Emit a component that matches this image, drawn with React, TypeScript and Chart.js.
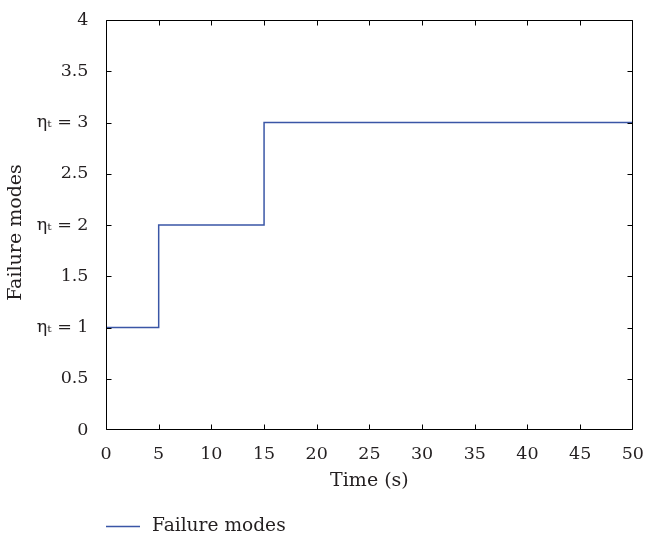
import React, { useEffect, useRef } from 'react';
import { Chart, registerables } from 'chart.js';

Chart.register(...registerables);

// ---- data ----
const times = [0, 5, 15, 50];
const failureModes = [1, 2, 3, 3];
const xTickValues = [0, 5, 10, 15, 20, 25, 30, 35, 40, 45, 50];
const yTickValues = [0, 0.5, 1, 1.5, 2, 2.5, 3, 3.5, 4];
const yTickLabels = ['0', '0.5', 'ηₜ = 1', '1.5', 'ηₜ = 2', '2.5', 'ηₜ = 3', '3.5', '4'];
const seriesLabel = 'Failure modes';
const xTitle = 'Time (s)';
const yTitle = 'Failure modes';

const FONT = 'DejaVu Serif';
const TEXT = '#231f20';
const LINE = '#3a56a6';

const clamp = (v: number, a: number, b: number) => Math.min(Math.max(v, a), b);

const framePlugin = {
  id: 'frameTicks',
  afterDatasetsDraw(chart: any) {
    const { ctx, chartArea } = chart;
    const xs = chart.scales.x;
    const ys = chart.scales.y;
    const L = Math.round(chartArea.left) + 0.5;
    const R = Math.round(chartArea.right) - 0.5;
    const T = Math.round(chartArea.top) + 0.5;
    const B = Math.round(chartArea.bottom) - 0.5;
    const len = 5;
    ctx.save();
    ctx.strokeStyle = '#000';
    ctx.lineWidth = 1;
    ctx.beginPath();
    ctx.rect(L, T, R - L, B - T);
    xTickValues.forEach((v) => {
      const px = clamp(Math.round(xs.getPixelForValue(v)) + 0.5, L, R);
      ctx.moveTo(px, B);
      ctx.lineTo(px, B - len);
      ctx.moveTo(px, T);
      ctx.lineTo(px, T + len);
    });
    yTickValues.forEach((v) => {
      const py = clamp(Math.round(ys.getPixelForValue(v)) + 0.5, T, B);
      ctx.moveTo(L, py);
      ctx.lineTo(L + len, py);
      ctx.moveTo(R, py);
      ctx.lineTo(R - len, py);
    });
    ctx.stroke();
    ctx.restore();
  },
  afterDraw(chart: any) {
    const { ctx } = chart;
    const ds = chart.data.datasets[0];
    // y-axis title
    ctx.save();
    ctx.fillStyle = TEXT;
    ctx.font = `19px "${FONT}"`;
    ctx.textAlign = 'center';
    ctx.textBaseline = 'middle';
    ctx.translate(16, 232.5);
    ctx.rotate(-Math.PI / 2);
    ctx.fillText(yTitle, 0, 0);
    ctx.restore();
    // legend
    const y = 526;
    const x0 = chart.chartArea.left;
    ctx.save();
    ctx.strokeStyle = ds.borderColor;
    ctx.lineWidth = 1.5;
    ctx.beginPath();
    ctx.moveTo(x0, y + 0.5);
    ctx.lineTo(x0 + 34, y + 0.5);
    ctx.stroke();
    ctx.fillStyle = TEXT;
    ctx.font = `18.6px "${FONT}"`;
    ctx.textBaseline = 'middle';
    ctx.textAlign = 'left';
    ctx.fillText(ds.label, x0 + 46, y);
    ctx.restore();
  },
};

export default function App() {
  const ref = useRef<HTMLCanvasElement | null>(null);

  useEffect(() => {
    document.body.style.margin = '0';
    if (!ref.current) return;
    const chart = new Chart(ref.current, {
      type: 'line',
      data: {
        datasets: [
          {
            label: seriesLabel,
            data: times.map((t, i) => ({ x: t, y: failureModes[i] })),
            stepped: true,
            borderColor: LINE,
            borderWidth: 1.5,
            pointRadius: 0,
            fill: false,
          },
        ],
      },
      options: {
        responsive: false,
        animation: false,
        layout: { padding: { top: 13, right: 13, left: 0, bottom: 44 } },
        plugins: {
          legend: { display: false },
          tooltip: { enabled: false },
        },
        scales: {
          x: {
            type: 'linear',
            min: 0,
            max: 50,
            grid: { display: false },
            border: { display: false },
            afterBuildTicks: (s: any) => {
              s.ticks = xTickValues.map((v) => ({ value: v }));
            },
            afterFit: (s: any) => {
              s.height = 66;
            },
            ticks: {
              padding: 6,
              maxRotation: 0,
              color: TEXT,
              font: { family: FONT, size: 17.5 },
              callback: (v: any) => String(v),
            },
            title: {
              display: true,
              text: xTitle,
              color: TEXT,
              font: { family: FONT, size: 19 },
              padding: { top: 0, bottom: 4 },
            },
          },
          y: {
            type: 'linear',
            min: 0,
            max: 4,
            grid: { display: false },
            border: { display: false },
            afterBuildTicks: (s: any) => {
              s.ticks = yTickValues.map((v) => ({ value: v }));
            },
            afterFit: (s: any) => {
              s.width = 106;
            },
            ticks: {
              padding: 9.5,
              color: TEXT,
              font: { family: FONT, size: 17.5 },
              callback: (v: any) => {
                const i = yTickValues.indexOf(Number(v));
                return i >= 0 ? yTickLabels[i] : String(v);
              },
            },
            title: { display: false },
          },
        },
      },
      plugins: [framePlugin],
    });
    return () => chart.destroy();
  }, []);

  return (
    <div style={{ width: 650, height: 540 }}>
      <canvas ref={ref} width={650} height={540} />
    </div>
  );
}
